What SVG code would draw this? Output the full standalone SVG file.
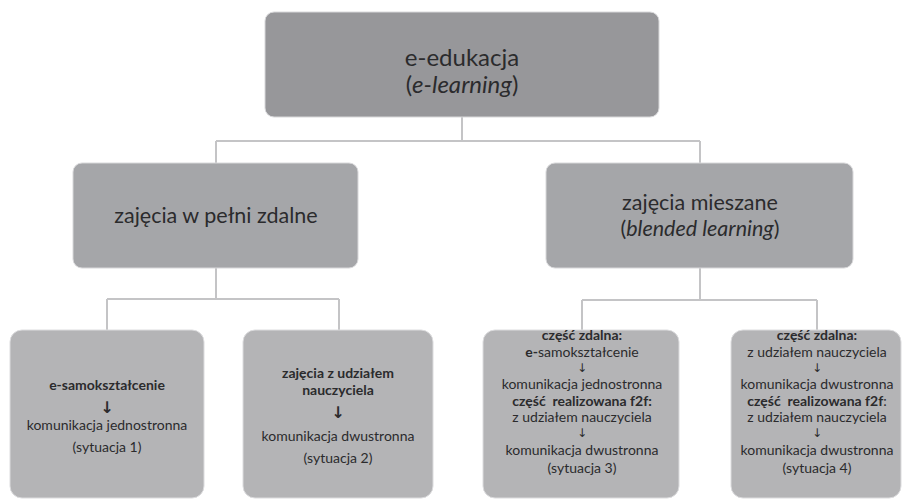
<svg xmlns="http://www.w3.org/2000/svg" width="905" height="499" viewBox="0 0 905 499">
<style>
.t{font-family:Lato,"Open Sans","Liberation Sans",sans-serif;fill:#2b2b2d;text-anchor:middle}
.big{font-size:21.5px}
.top{font-size:24px}
.sm{font-size:14px}
.b{font-weight:bold}
.ar{font-family:"DejaVu Sans",sans-serif;font-size:16px;fill:#2b2b2d;text-anchor:middle}
.ar2{font-family:"DejaVu Sans",sans-serif;font-size:12px;fill:#2b2b2d;text-anchor:middle}
.box0{fill:#97979a;stroke:#d8d8da;stroke-width:1}
.box1{fill:#a5a6a9;stroke:#d8d8da;stroke-width:1}
.box2{fill:#b4b4b6;stroke:#dcdcde;stroke-width:1}
.c{fill:none;stroke:#c4c4c6;stroke-width:2}
</style>
<rect width="905" height="499" fill="#ffffff"/>
<g id="connectors">
<path class="c" d="M462 117V141M216 141H700M216 141V163M700 141V163"/>
<path class="c" d="M216 268V299M107 299H339M107 299V330M339 299V330"/>
<path class="c" d="M700 268V300M582 300H817M582 300V330M817 300V330"/>
</g>
<g id="n-root">
<rect class="box0" x="265" y="12" width="394" height="105" rx="9"/>
<text class="t top" x="462" y="66">e-edukacja</text>
<text class="t top" x="462" y="93">(<tspan font-style="italic">e-learning</tspan>)</text>
</g>
<g id="n-zdalne">
<rect class="box1" x="73" y="163" width="285" height="105" rx="9"/>
<text class="t big" x="216" y="223">zajęcia w pełni zdalne</text>
</g>
<g id="n-mieszane">
<rect class="box1" x="546" y="163" width="307" height="105" rx="9"/>
<text class="t big" x="700" y="210">zajęcia mieszane</text>
<text class="t big" x="700" y="236">(<tspan font-style="italic">blended learning</tspan>)</text>
</g>
<g id="n-s1">
<rect class="box2" x="10" y="330" width="194" height="168" rx="12"/>
<text class="t sm b" x="107" y="390">e-samokształcenie</text>
<text class="ar" x="107" y="413" font-weight="bold">↓</text>
<text class="t sm" x="107" y="430">komunikacja jednostronna</text>
<text class="t sm" x="107" y="452">(sytuacja 1)</text>
</g>
<g id="n-s2">
<rect class="box2" x="243" y="330" width="190" height="168" rx="12"/>
<text class="t sm b" x="338" y="378">zajęcia z udziałem</text>
<text class="t sm b" x="338" y="395">nauczyciela</text>
<text class="ar" x="338" y="418" font-weight="bold">↓</text>
<text class="t sm" x="338" y="441">komunikacja dwustronna</text>
<text class="t sm" x="338" y="463">(sytuacja 2)</text>
</g>
<g id="n-s3">
<rect class="box2" x="483" y="330" width="196" height="168" rx="12"/>
<text class="t sm b" x="582" y="340">część zdalna:</text>
<text class="t sm" x="582" y="357"><tspan font-weight="bold">e-</tspan>samokształcenie</text>
<text class="ar2" x="582" y="372">↓</text>
<text class="t sm" x="582" y="389">komunikacja jednostronna</text>
<text class="t sm b" x="582" y="406" xml:space="preserve">część  realizowana f2f:</text>
<text class="t sm" x="582" y="422">z udziałem nauczyciela</text>
<text class="ar2" x="582" y="437">↓</text>
<text class="t sm" x="582" y="455">komunikacja dwustronna</text>
<text class="t sm" x="582" y="473">(sytuacja 3)</text>
</g>
<g id="n-s4">
<rect class="box2" x="731" y="330" width="170" height="168" rx="12"/>
<text class="t sm b" x="817" y="340">część zdalna:</text>
<text class="t sm" x="817" y="357">z udziałem nauczyciela</text>
<text class="ar2" x="817" y="372">↓</text>
<text class="t sm" x="817" y="389">komunikacja dwustronna</text>
<text class="t sm" x="817" y="406" xml:space="preserve"><tspan font-weight="bold">część  realizowana f2f</tspan>:</text>
<text class="t sm" x="817" y="422">z udziałem nauczyciela</text>
<text class="ar2" x="817" y="437">↓</text>
<text class="t sm" x="817" y="455">komunikacja dwustronna</text>
<text class="t sm" x="817" y="473">(sytuacja 4)</text>
</g>
</svg>
